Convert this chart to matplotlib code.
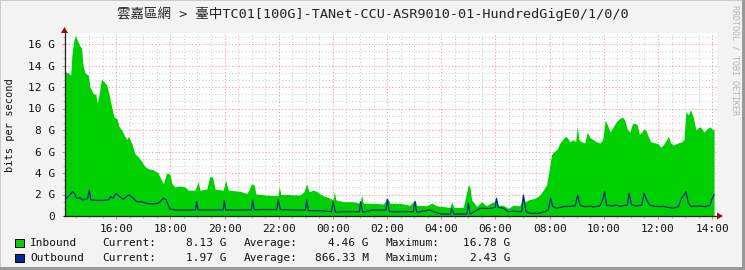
import matplotlib
matplotlib.use('Agg')
import matplotlib.pyplot as plt
from matplotlib.patches import Rectangle, Polygon
import numpy as np

title = '雲嘉區網 > 臺中TC01[100G]-TANet-CCU-ASR9010-01-HundredGigE0/1/0/0'

# hours since midnight of day 1 (values > 24 are the next day), Gbit/s
in_hours = [14.09, 14.13, 14.23, 14.32, 14.37, 14.44, 14.50, 14.56, 14.64, 14.72,
            14.78, 14.85, 14.97, 15.03, 15.15, 15.25, 15.30, 15.37, 15.45, 15.55,
            15.65, 15.74, 15.83, 15.92, 16.02, 16.11, 16.20, 16.32, 16.39, 16.45,
            16.57, 16.69, 16.81, 16.94, 17.06, 17.18, 17.37, 17.55, 17.62, 17.74,
            17.86, 17.98, 18.06, 18.17, 18.35, 18.54, 18.66, 18.91, 19.03, 19.09,
            19.34, 19.46, 19.56, 19.65, 19.95, 20.04, 20.14, 20.57, 20.82, 20.90,
            21.00, 21.09, 21.16, 21.49, 21.79, 21.97, 22.02, 22.08, 22.29, 22.78,
            22.93, 23.03, 23.12, 23.27, 23.40, 23.58, 23.89, 24.01, 24.05, 24.11,
            24.38, 24.74, 25.00, 25.06, 25.12, 25.49, 25.86, 26.02, 26.11, 26.47,
            26.84, 27.03, 27.09, 27.46, 27.65, 27.83, 28.32, 28.38, 28.47, 28.81,
            29.00, 29.06, 29.12, 29.31, 29.49, 29.67, 29.80, 29.94, 30.02, 30.10,
            30.29, 30.47, 30.66, 30.90, 31.03, 31.09, 31.21, 31.46, 31.64, 31.76,
            31.89, 31.95, 32.01, 32.07, 32.16, 32.28, 32.38, 32.48, 32.57, 32.65,
            32.75, 32.87, 32.96, 33.02, 33.08, 33.18, 33.30, 33.39, 33.49, 33.61,
            33.73, 33.86, 33.96, 34.05, 34.13, 34.23, 34.35, 34.47, 34.60, 34.69,
            34.78, 34.86, 34.96, 35.06, 35.15, 35.23, 35.31, 35.40, 35.48, 35.55,
            35.64, 35.73, 35.89, 36.01, 36.10, 36.19, 36.32, 36.38, 36.47, 36.56,
            36.75, 36.87, 36.96, 37.03, 37.12, 37.20, 37.30, 37.40, 37.48, 37.57,
            37.70, 37.80, 37.92, 38.02, 38.07]
in_gbps = [14.8, 13.4, 13.3, 13.1, 15.1, 16.4, 16.78, 16.4, 15.9, 15.6,
           14.0, 13.3, 13.1, 12.0, 11.4, 11.3, 10.5, 11.3, 12.7, 12.5,
           12.2, 11.3, 10.2, 9.2, 9.1, 8.3, 8.0, 7.4, 7.1, 7.4,
           6.8, 5.8, 5.5, 5.1, 4.6, 4.4, 4.3, 4.0, 3.6, 3.0,
           4.0, 3.9, 3.0, 2.7, 2.8, 2.7, 2.4, 2.4, 3.2, 2.4,
           2.5, 3.7, 3.6, 2.5, 2.4, 3.3, 2.4, 2.3, 2.1, 2.4,
           3.0, 2.9, 2.05, 1.95, 1.9, 1.9, 2.7, 2.0, 2.0, 1.95,
           2.26, 3.0, 2.26, 2.4, 2.3, 1.95, 1.65, 1.5, 2.26, 1.5,
           1.33, 1.33, 1.18, 1.95, 1.18, 1.18, 1.12, 1.65, 1.18, 1.18,
           1.0, 1.5, 1.0, 0.95, 1.2, 0.95, 0.8, 1.3, 0.8, 0.8,
           2.9, 2.7, 1.5, 0.9, 1.33, 0.95, 1.18, 1.3, 1.65, 1.0,
           1.0, 0.72, 1.0, 0.95, 1.95, 1.3, 1.5, 1.65, 1.95, 2.4,
           2.9, 3.8, 4.7, 5.7, 6.0, 6.2, 6.8, 7.1, 7.4, 7.3,
           6.9, 7.1, 6.9, 8.3, 7.1, 6.9, 6.8, 7.8, 7.3, 7.1,
           6.9, 6.8, 7.1, 8.9, 8.5, 7.8, 8.3, 8.8, 9.1, 9.2,
           8.9, 8.1, 7.8, 8.6, 8.6, 8.5, 7.6, 7.8, 8.1, 8.0,
           7.4, 6.9, 6.8, 6.7, 6.4, 6.6, 7.1, 7.4, 6.8, 6.6,
           6.8, 6.9, 7.1, 9.7, 9.4, 9.9, 9.2, 8.0, 8.2, 8.3,
           7.8, 8.1, 8.3, 8.0, 8.13]

out_hours = [14.09, 14.23, 14.39, 14.46, 14.54, 14.66, 14.76, 14.94, 15.01, 15.06,
             15.28, 15.51, 15.71, 15.80, 15.88, 15.99, 16.14, 16.26, 16.45, 16.57,
             16.76, 16.94, 17.10, 17.37, 17.55, 17.74, 17.84, 17.92, 17.98, 18.23,
             18.93, 18.97, 19.02, 19.95, 19.99, 20.04, 20.99, 21.04, 21.10, 21.31,
             21.93, 21.98, 22.06, 22.54, 22.99, 23.03, 23.10, 23.52, 23.95, 24.01,
             24.09, 24.51, 24.98, 25.02, 25.10, 25.49, 25.96, 26.01, 26.08, 26.47,
             26.97, 27.03, 27.09, 27.58, 27.77, 28.01, 28.34, 28.38, 28.47, 28.95,
             29.00, 29.06, 29.44, 29.80, 29.99, 30.04, 30.10, 30.29, 30.47, 30.66,
             30.97, 31.03, 31.13, 31.28, 31.58, 31.83, 31.95, 32.04, 32.11, 32.24,
             32.50, 32.75, 32.94, 33.04, 33.12, 33.30, 33.49, 33.67, 33.86, 33.96,
             34.03, 34.10, 34.29, 34.47, 34.60, 34.78, 34.87, 34.93, 35.03, 35.21,
             35.40, 35.49, 35.58, 35.70, 35.89, 36.07, 36.19, 36.38, 36.56, 36.75,
             36.87, 36.96, 37.03, 37.12, 37.23, 37.40, 37.55, 37.74, 37.92, 37.98,
             38.07]
out_gbps = [1.55, 1.8, 2.26, 2.1, 1.65, 1.7, 1.5, 1.6, 2.43, 1.5,
            1.45, 1.45, 1.5, 1.8, 1.65, 2.1, 1.8, 1.55, 1.95, 1.8,
            1.33, 1.33, 1.18, 1.12, 1.18, 1.65, 1.5, 1.0, 0.65, 0.56,
            0.56, 1.33, 0.56, 0.56, 1.45, 0.56, 0.56, 1.45, 0.56, 0.6,
            0.6, 1.5, 0.6, 0.56, 0.56, 1.5, 0.5, 0.5, 0.4, 1.33,
            0.35, 0.4, 0.4, 1.33, 0.35, 0.56, 0.56, 1.57, 0.4, 0.4,
            0.4, 1.33, 0.35, 0.56, 0.35, 0.18, 0.18, 0.7, 0.18, 0.18,
            1.18, 0.18, 0.72, 0.7, 0.8, 1.65, 0.8, 0.72, 0.4, 0.45,
            0.4, 1.95, 0.4, 0.25, 0.25, 0.4, 0.57, 1.65, 0.9, 0.72,
            0.87, 0.9, 0.95, 1.95, 1.0, 0.87, 0.9, 0.85, 0.95, 1.5,
            2.26, 1.0, 0.95, 1.0, 0.9, 1.0, 1.0, 2.1, 1.0, 0.95,
            1.0, 2.1, 1.5, 1.0, 0.9, 0.87, 0.9, 0.8, 0.72, 0.87,
            1.65, 1.95, 2.26, 1.2, 0.87, 0.92, 0.92, 0.87, 1.0, 1.5,
            1.97]

hour_ticks = list(range(16, 39, 2))
hour_labels = ['%02d:00' % (h % 24) for h in hour_ticks]
y_ticks = list(range(0, 17, 2))
y_labels = ['0'] + ['%d G' % v for v in y_ticks[1:]]

legend_names = ['Inbound', 'Outbound']
legend_colors = ['#00CF00', '#002A97']
legend_current = ['8.13 G', '1.97 G']
legend_average = ['4.46 G', '866.33 M']
legend_maximum = ['16.78 G', '2.43 G']

W, H = 745, 270
MONO = 'DejaVu Sans Mono'


def fx(x):
    return x / W


def fy(y):
    return 1 - y / H


fig = plt.figure(figsize=(W / 100, H / 100), dpi=100, facecolor='#F3F3F3')

# plot area in pixels: x 64.5..717, y 33..216
left, right, top, bottom = 64.5, 717, 33, 216
ax = fig.add_axes([fx(left), fy(bottom), (right - left) / W, (bottom - top) / H])
ax.set_facecolor('white')

t0 = 14.092
px_per_h = 27.09
px_per_g = 10.75
ax.set_xlim(t0, t0 + (right - left) / px_per_h)
ax.set_ylim(0, (bottom - top) / px_per_g)

ax.set_xticks(hour_ticks)
ax.set_xticklabels(hour_labels)
ax.set_xticks(np.arange(14.5, 38.1, 0.5), minor=True)
ax.set_yticks(y_ticks)
ax.set_yticklabels(y_labels)
ax.set_yticks(np.arange(0, 17.01, 2 / 3), minor=True)

ax.set_axisbelow(True)
ax.grid(which='minor', color='#CFCFCF', linestyle=(0, (1, 2)), linewidth=0.8)
ax.grid(which='major', color='#F19A9A', linestyle=(0, (1, 2)), linewidth=0.8)

ax.tick_params(which='major', length=2.5, width=0.8, color='#E08080',
               labelsize=8, pad=3)
ax.tick_params(axis='y', which='major', pad=4.5)
ax.tick_params(which='minor', length=1.5, width=0.8, color='#BBBBBB')
for lab in ax.get_xticklabels() + ax.get_yticklabels():
    lab.set_family(MONO)
    lab.set_color('#111111')

for s in ['top', 'right']:
    ax.spines[s].set_visible(False)
for s in ['left', 'bottom']:
    ax.spines[s].set_color('#222222')
    ax.spines[s].set_linewidth(0.9)

ax.fill_between(in_hours, in_gbps, color='#00CF00', linewidth=0, zorder=2)
ax.plot(out_hours, out_gbps, color='#002A97', linewidth=0.9, zorder=3)


def pix_poly(pts, color):
    fig.add_artist(Polygon([(fx(x), fy(y)) for x, y in pts], closed=True,
                           transform=fig.transFigure, color=color, lw=0))


# axis arrows
pix_poly([(61.0, 33), (68.0, 33), (64.5, 27)], '#8B1010')
pix_poly([(717, 212.5), (717, 219.5), (723, 216)], '#8B1010')

# frame shading
fig.add_artist(Rectangle((0, fy(1)), 1, 1 / H, transform=fig.transFigure,
                         color='#CBCBCB', lw=0))
fig.add_artist(Rectangle((0, 0), 1 / W, 1, transform=fig.transFigure,
                         color='#CBCBCB', lw=0))
fig.add_artist(Rectangle((fx(742), 0), 3 / W, 1, transform=fig.transFigure,
                         color='#999999', lw=0))
fig.add_artist(Rectangle((0, 0), 1, 3 / H, transform=fig.transFigure,
                         color='#999999', lw=0))

fig.text(fx(372.5), fy(14), title, ha='center', va='center', fontsize=9.7,
         family=[MONO, 'Noto Sans CJK TC'], color='#222222')
fig.text(fx(10.5), fy(125), 'bits per second', rotation=90, ha='center',
         va='center', fontsize=7.5, family=MONO, color='#111111')
fig.text(fx(735), fy(60), 'RRDTOOL / TOBI OETIKER', rotation=270, ha='center',
         va='center', fontsize=6, family=MONO, color='#B4B4B4')

# legend
for i, name in enumerate(legend_names):
    yc = 242.9 + i * 15.1
    fig.add_artist(Rectangle((fx(15), fy(yc + 4.2)), 8.5 / W, 8.5 / H,
                             transform=fig.transFigure,
                             facecolor=legend_colors[i], edgecolor='black', lw=0.7))
    kw = dict(va='center', fontsize=8, family=MONO, color='#111111')
    fig.text(fx(30.4), fy(yc), name, ha='left', **kw)
    fig.text(fx(102.5), fy(yc), 'Current:', ha='left', **kw)
    fig.text(fx(227), fy(yc), legend_current[i], ha='right', **kw)
    fig.text(fx(244), fy(yc), 'Average:', ha='left', **kw)
    fig.text(fx(369), fy(yc), legend_average[i], ha='right', **kw)
    fig.text(fx(386), fy(yc), 'Maximum:', ha='left', **kw)
    fig.text(fx(510.7), fy(yc), legend_maximum[i], ha='right', **kw)

fig.savefig('out.png', dpi=100, facecolor=fig.get_facecolor())
